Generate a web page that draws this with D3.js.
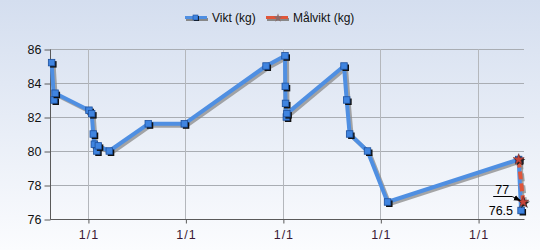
<!DOCTYPE html>
<html><head><meta charset="utf-8">
<script src="https://cdn.jsdelivr.net/npm/d3@7"></script>
<style>html,body{margin:0;padding:0;}svg{display:block;font-family:"Liberation Sans",Arial,sans-serif;}</style>
</head><body>
<svg id="c" width="540" height="250"></svg>
<script>
// ---- data ----
const viktDates = ["2008-08-18","2008-08-27","2008-08-31","2009-01-05","2009-01-15","2009-01-21","2009-01-25","2009-02-03","2009-02-09","2009-03-22","2009-08-15","2009-12-28","2010-10-30","2011-01-09","2011-01-10","2011-01-11","2011-01-14","2011-01-16","2011-08-18","2011-08-28","2011-09-08","2011-11-14","2012-01-28","2013-06-02","2013-06-11"];
const viktValues = [85.2,83.0,83.4,82.4,82.2,81.0,80.4,80.0,80.3,80.0,81.6,81.6,85.0,85.6,83.8,82.8,82.0,82.2,85.0,83.0,81.0,80.0,77.0,79.5,76.5];
const malDates = ["2013-06-02","2013-06-19"];
const malValues = [79.5,77.0];
const yTicks = [76,78,80,82,84,86];
const xTickDates = ["2009-01-01","2010-01-01","2011-01-01","2012-01-01","2013-01-01"];
const xTickLabel = "1/1";
const seriesNames = ["Vikt (kg)","Målvikt (kg)"];
const annotations = [{series:1, index:1, text:"77"},{series:0, index:24, text:"76.5"}];

const parse = d3.timeParse("%Y-%m-%d");
const svg = d3.select("#c");
const defs = svg.append("defs");
const bg = defs.append("linearGradient").attr("id","bg").attr("x1",0).attr("y1",0).attr("x2",0).attr("y2",1);
bg.append("stop").attr("offset","0%").attr("stop-color","#d4deef");
bg.append("stop").attr("offset","100%").attr("stop-color","#fbfcfe");
svg.append("rect").attr("width",540).attr("height",250).attr("fill","url(#bg)");
defs.append("marker").attr("id","arr").attr("viewBox","0 0 10 10").attr("refX",9).attr("refY",5)
  .attr("markerWidth",7).attr("markerHeight",7).attr("orient","auto")
  .append("path").attr("d","M0,1L10,5L0,9z").attr("fill","#000");

const L=50,R=524,T=49,B=219;
const x = d3.scaleTime().domain([parse("2008-08-12"),parse("2013-06-22")]).range([L,R]);
const y = d3.scaleLinear().domain([76,86]).range([B,T]);

// grid
const g = svg.append("g");
g.selectAll(".hg").data(yTicks).join("line").attr("x1",L).attr("x2",R)
  .attr("y1",d=>y(d)+0.5).attr("y2",d=>y(d)+0.5).attr("stroke","#a9adb3").attr("stroke-width",1);
g.selectAll(".vg").data(xTickDates).join("line")
  .attr("x1",d=>Math.round(x(parse(d)))+0.5).attr("x2",d=>Math.round(x(parse(d)))+0.5)
  .attr("y1",T).attr("y2",B).attr("stroke","#b4b7bc").attr("stroke-width",1);

// axes
const yAxis = d3.axisLeft(y).tickValues(yTicks).tickSize(6).tickPadding(3).tickFormat(d3.format("d"));
const ya = svg.append("g").attr("transform",`translate(${L+0.5},0.5)`).call(yAxis);
const xAxis = d3.axisBottom(x).tickValues(xTickDates.map(parse)).tickSize(4).tickPadding(7).tickFormat(()=>xTickLabel);
const xa = svg.append("g").attr("transform",`translate(0.5,${B+0.5})`).call(xAxis);
[ya,xa].forEach(a=>{
  a.select(".domain").attr("stroke","#5a5a5a");
  a.selectAll(".tick line").attr("stroke","#5a5a5a");
  a.selectAll("text").attr("font-size",12.5).attr("font-family","Liberation Sans, Arial, sans-serif").attr("fill","#111");
});
xa.select(".domain").attr("d",`M${L},0H${R}`);
ya.select(".domain").attr("d",`M0,${T}V${B}`);
xa.selectAll("text").attr("fill","#3a1a34").attr("letter-spacing","1px");

// series
const vikt = viktDates.map((d,i)=>({x:parse(d),y:viktValues[i]}));
const mal = malDates.map((d,i)=>({x:parse(d),y:malValues[i]}));
const line = d3.line().x(d=>x(d.x)).y(d=>y(d.y));

// shadows
svg.append("path").datum(vikt).attr("d",line).attr("fill","none").attr("stroke","#8a8a8a").attr("stroke-opacity",0.75)
  .attr("stroke-width",4).attr("stroke-linejoin","round").attr("transform","translate(2,2)");
svg.append("path").datum(mal).attr("d",line).attr("fill","none").attr("stroke","#8a8a8a").attr("stroke-opacity",0.75)
  .attr("stroke-width",4).attr("stroke-dasharray","8,4").attr("transform","translate(2,2)");
svg.append("path").datum(vikt).attr("d",line).attr("fill","none").attr("stroke","#4f8fe2")
  .attr("stroke-width",4).attr("stroke-linejoin","round");

function square(sel, cx, cy){
  sel.append("rect").attr("x",cx-3+1.5).attr("y",cy-3+1.5).attr("width",6.5).attr("height",6.5).attr("fill","#111");
  sel.append("rect").attr("x",cx-3.25).attr("y",cy-3.25).attr("width",6.5).attr("height",6.5)
    .attr("fill","#3f84e0").attr("stroke","#1c4f9c").attr("stroke-width",0.8);
}
const star = d3.symbol().type(d3.symbolStar).size(38);
function starMark(sel,cx,cy){
  sel.append("path").attr("d",star()).attr("transform",`translate(${cx+1.2},${cy+1.2})`).attr("fill","#222");
  sel.append("path").attr("d",star()).attr("transform",`translate(${cx},${cy})`).attr("fill","#c8453a").attr("stroke","#6a2a2a").attr("stroke-width",0.6);
}
const mg = svg.append("g");
vikt.forEach(d=>square(mg, x(d.x), y(d.y)));
svg.append("path").datum(mal).attr("d",line).attr("fill","none").attr("stroke","#e0563a")
  .attr("stroke-width",4).attr("stroke-dasharray","8,4");
const sg = svg.append("g");
mal.forEach(d=>starMark(sg, x(d.x), y(d.y)));

// annotations
const serData=[vikt,mal];
annotations.forEach(a=>{
  const p = serData[a.series][a.index];
  const px=x(p.x), py=y(p.y);
  if(a.series===1){
    svg.append("text").attr("x",px-21).attr("y",py-8).attr("text-anchor","middle").attr("font-size",12.5).attr("fill","#000").text(a.text);
    svg.append("path").attr("d",`M${px-30},${py-5.5}H${px-11}L${px-3},${py-1.5}`).attr("fill","none")
      .attr("stroke","#000").attr("stroke-width",1).attr("marker-end","url(#arr)");
  } else {
    svg.append("text").attr("x",px-8).attr("y",py+4.5).attr("text-anchor","end").attr("font-size",12.5).attr("fill","#000").text(a.text);
  }
});

// legend
const lg = svg.append("g");
const legItems=[{name:seriesNames[0],x0:185,tx:212,color:"#4f8fe2",mk:"sq"},{name:seriesNames[1],x0:266,tx:293,color:"#e0563a",mk:"st"}];
legItems.forEach(it=>{
  lg.append("line").attr("x1",it.x0+1).attr("x2",it.x0+23).attr("y1",19.5).attr("y2",19.5).attr("stroke","#888").attr("stroke-width",3);
  lg.append("line").attr("x1",it.x0).attr("x2",it.x0+22).attr("y1",17.5).attr("y2",17.5).attr("stroke",it.color).attr("stroke-width",3);
  if(it.mk==="sq"){
    lg.append("rect").attr("x",it.x0+9).attr("y",16).attr("width",5).attr("height",5).attr("fill","#111");
    lg.append("rect").attr("x",it.x0+8).attr("y",15).attr("width",5).attr("height",5).attr("fill","#3f84e0").attr("stroke","#1c4f9c").attr("stroke-width",0.6);
  } else {
    lg.append("path").attr("d",d3.symbol().type(d3.symbolStar).size(25)()).attr("transform",`translate(${it.x0+12},${18})`).attr("fill","#8a6a6a");
  }
  lg.append("text").attr("x",it.tx).attr("y",22).attr("font-size",12).attr("fill","#111").text(it.name);
});
</script>
</body></html>
